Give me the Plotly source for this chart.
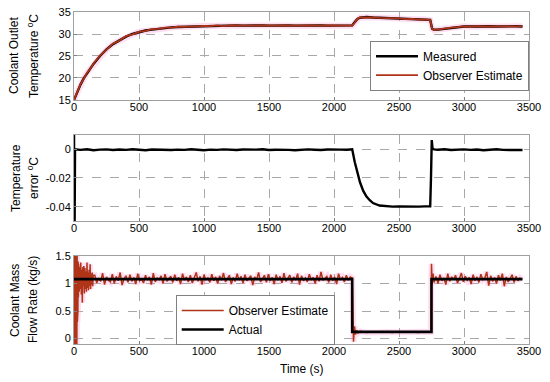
import plotly.graph_objects as go

# ---------------- data ----------------
t_temp = [0, 25, 50, 75, 100, 125, 150,
          200, 250, 300, 350, 400, 450, 500, 550, 600, 650,
          700, 750, 800, 850, 900, 950, 1000, 1050, 1100, 1150,
          1200, 1250, 1300, 1350, 1400, 1450, 1500, 1550, 1600, 1650,
          1700, 1750, 1800, 1850, 1900, 1950, 2000, 2050, 2100,
          2140, 2160, 2180, 2200, 2250, 2300, 2350, 2400, 2450, 2500,
          2550, 2600, 2650, 2700, 2740, 2755, 2770,
          2800, 2850, 2900, 2950, 3000, 3050, 3100, 3150, 3200, 3250, 3300, 3350, 3400, 3450]
temp_measured = [15.0, 16.9, 18.5, 19.9, 21.1, 22.2, 23.2,
                 25.0, 26.5, 27.7, 28.6, 29.4, 30.0, 30.4, 30.8, 31.0, 31.2,
                 31.4, 31.5, 31.6, 31.65, 31.7, 31.8, 31.8, 31.85, 31.9, 31.85,
                 31.9, 31.95, 31.9, 31.95, 31.9, 31.95, 31.9, 31.95, 31.9, 31.95,
                 31.9, 31.95, 31.9, 31.9, 31.95, 31.9, 31.95, 31.9, 31.95,
                 31.95, 32.7, 33.4, 33.7, 33.85, 33.75, 33.7, 33.6, 33.55, 33.5,
                 33.45, 33.4, 33.3, 33.25, 33.2, 31.2, 30.95,
                 31.0, 31.2, 31.4, 31.6, 31.7, 31.7, 31.75, 31.7, 31.75, 31.7, 31.75, 31.7, 31.75, 31.7]
temp_estimate = [15.0, 16.8, 18.6, 19.8, 21.2, 22.1, 23.3,
                 25.1, 26.4, 27.8, 28.5, 29.5, 29.9, 30.5, 30.7, 31.1, 31.15,
                 31.45, 31.45, 31.65, 31.6, 31.75, 31.75, 31.85, 31.8, 31.95, 31.8,
                 31.95, 31.9, 31.95, 31.9, 31.95, 31.9, 31.95, 31.9, 31.95, 31.9,
                 31.95, 31.9, 31.95, 31.85, 31.9, 31.95, 31.9, 31.95, 31.9,
                 31.9, 32.6, 33.45, 33.75, 33.8, 33.8, 33.65, 33.65, 33.5, 33.55,
                 33.4, 33.45, 33.25, 33.3, 33.15, 31.25, 30.9,
                 31.05, 31.15, 31.45, 31.55, 31.75, 31.65, 31.8, 31.7, 31.7, 31.75, 31.7, 31.75, 31.7, 31.75]

t_err = [0, 3, 8,
         50, 100, 150, 200, 250, 300, 350,
         400, 450, 500, 550, 600, 650, 700,
         750, 800, 850, 900, 950, 1000, 1050,
         1100, 1150, 1200, 1250, 1300, 1350, 1400,
         1450, 1500, 1550, 1600, 1650, 1700, 1750,
         1800, 1850, 1900, 1950, 2000, 2050, 2100,
         2140, 2160, 2180, 2200, 2225, 2250, 2275, 2300, 2350, 2400,
         2450, 2500, 2550, 2600, 2650, 2700,
         2740, 2746, 2752, 2758, 2770,
         2800, 2850, 2900, 2950, 3000, 3050, 3100, 3150, 3200, 3250, 3300, 3350, 3400, 3450]
temp_error = [0.02, -0.08, 0.0,
              -0.0004, 0.0001, -0.0006, -0.0002, 0.0000, -0.0005, -0.0001,
              -0.0004, 0.0001, -0.0003, -0.0006, -0.0001, -0.0003, 0.0000,
              -0.0005, -0.0002, -0.0004, 0.0001, -0.0003, -0.0006, -0.0002,
              -0.0004, 0.0000, -0.0003, -0.0005, -0.0001, -0.0004, -0.0002,
              0.0001, -0.0005, -0.0003, -0.0001, -0.0004, -0.0006, -0.0002,
              0.0000, -0.0003, -0.0005, -0.0001, -0.0004, -0.0002, -0.0003,
              0.0000, -0.009, -0.017, -0.023, -0.029, -0.033, -0.0355, -0.0375, -0.0392, -0.0398,
              -0.0400, -0.0399, -0.0401, -0.0399, -0.0400, -0.0398,
              -0.0397, -0.02, 0.0065, 0.0005, 0.0,
              -0.0003, 0.0001, -0.0005, -0.0002, 0.0000, -0.0004, -0.0001, -0.0006, -0.0002, 0.0001, -0.0004, -0.0003, -0.0001, -0.0005]

t_flow = [0, 2, 4, 6, 8, 10, 12, 14, 16, 18, 20, 22, 24, 26, 28, 30, 32, 34,
          36, 40, 44, 48, 52, 56, 60, 64, 68, 72, 76, 80, 84, 88, 92, 96, 100,
          104, 108, 112, 116, 120, 124, 128, 132, 136, 140, 144, 148,
          160, 175, 190, 205, 220, 235, 250, 265, 280, 295,
          310, 325, 340, 355, 370, 385, 400, 415, 430, 445,
          460, 475, 490, 505, 520, 535, 550, 565, 580, 595,
          610, 625, 640, 655, 670, 685, 700, 715, 730, 745,
          760, 775, 790, 805, 820, 835, 850, 865, 880, 895,
          910, 925, 940, 955, 970, 985, 1000, 1015, 1030, 1045,
          1060, 1075, 1090, 1105, 1120, 1135, 1150, 1165, 1180, 1195,
          1210, 1225, 1240, 1255, 1270, 1285, 1300, 1315, 1330, 1345,
          1360, 1375, 1390, 1405, 1420, 1435, 1450, 1465, 1480, 1495,
          1510, 1525, 1540, 1555, 1570, 1585, 1600, 1615, 1630, 1645,
          1660, 1675, 1690, 1705, 1720, 1735, 1750, 1765, 1780, 1795,
          1810, 1825, 1840, 1855, 1870, 1885, 1900, 1915, 1930, 1945,
          1960, 1975, 1990, 2005, 2020, 2035, 2050, 2065, 2080, 2095,
          2110, 2125,
          2140, 2145, 2150, 2158, 2166, 2175, 2185, 2200, 2250, 2300, 2350, 2400, 2450, 2500, 2550, 2600, 2650, 2700, 2745,
          2750, 2755, 2762, 2770,
          2785, 2800, 2815, 2830, 2845, 2860, 2875, 2890, 2905, 2920,
          2935, 2950, 2965, 2980, 2995, 3010, 3025, 3040, 3055, 3070,
          3085, 3100, 3115, 3130, 3145, 3160, 3175, 3190, 3205, 3220,
          3235, 3250, 3265, 3280, 3295, 3310, 3325, 3340, 3355, 3370,
          3385, 3400, 3415, 3430, 3445]
flow_estimate = [1.55, -0.15, 1.55, -0.15, 1.5, 0.0, 1.55, -0.15, 1.5, 0.1, 1.55, -0.1, 1.5, 0.3, 1.45, 0.5, 1.4, 0.75,
                 1.35, 0.85, 1.3, 0.9, 1.38, 0.8, 1.25, 0.65, 1.3, 0.95, 1.32, 0.82, 1.28, 0.9, 1.22, 0.85, 1.38,
                 0.92, 1.2, 0.88, 1.25, 0.95, 1.35, 0.9, 1.18, 0.98, 1.2, 0.95, 1.15,
                 1.15, 1.01, 1.10, 1.04, 1.19, 0.98, 1.12, 1.06, 1.03, 1.17,
                 1.00, 1.13, 1.05, 1.20, 0.97, 1.09, 1.14, 1.02, 1.16, 1.04,
                 1.11, 0.99, 1.18, 1.05, 1.08, 1.01, 1.15, 1.06, 1.12, 0.98,
                 1.19, 1.03, 1.10, 1.07, 1.14, 1.00, 1.17, 1.04, 1.09, 1.13,
                 1.02, 1.16, 1.05, 1.11, 0.99, 1.18, 1.06, 1.12, 1.03, 1.15,
                 1.01, 1.09, 1.20, 1.04, 1.13, 0.98, 1.16, 1.07, 1.10, 1.02,
                 1.17, 1.05, 1.12, 1.00, 1.14, 1.06, 1.19, 1.03, 1.09, 1.15,
                 0.99, 1.11, 1.04, 1.18, 1.06, 1.13, 1.01, 1.16, 1.05, 1.10,
                 1.14, 0.97, 1.12, 1.07, 1.20, 1.03, 1.09, 1.15, 1.02, 1.17,
                 1.05, 1.11, 0.99, 1.16, 1.06, 1.13, 1.01, 1.19, 1.04, 1.10,
                 1.15, 1.02, 1.12, 1.06, 1.18, 0.98, 1.14, 1.05, 1.10, 1.03,
                 1.17, 1.07, 1.11, 1.00, 1.15, 1.04, 1.21, 1.06, 1.09, 1.13,
                 1.02, 1.16, 1.05, 1.12, 0.99, 1.18, 1.07, 1.11, 1.03, 1.15,
                 1.06, 1.12,
                 1.10, 0.45, -0.06, 0.22, 0.07, 0.15, 0.10, 0.13, 0.11, 0.125, 0.115, 0.12, 0.11, 0.125, 0.115, 0.12, 0.11, 0.125, 0.12,
                 1.36, 0.98, 1.18, 1.02,
                 1.13, 1.00, 1.16, 1.05, 1.10, 0.98, 1.18, 1.04, 1.12, 1.07,
                 1.15, 1.01, 1.09, 1.19, 1.03, 1.13, 1.06, 1.11, 0.99, 1.16,
                 1.05, 1.12, 1.02, 1.17, 1.07, 1.10, 1.21, 0.96, 1.14, 1.04,
                 1.11, 1.00, 1.15, 1.06, 1.18, 0.95, 1.12, 1.03, 1.09, 1.16,
                 1.02, 1.13, 1.05, 1.10, 1.07]

t_actual = [0, 2140, 2140, 2750, 2750, 3450]
flow_actual = [1.08, 1.08, 0.12, 0.12, 1.08, 1.08]

x_ticks = [0, 500, 1000, 1500, 2000, 2500, 3000, 3500]
temp_ticks = [15, 20, 25, 30, 35]
err_ticks = [-0.04, -0.02, 0]
err_ticktext = ["-0.04", "-0.02", "0"]
flow_ticks = [0, 0.5, 1, 1.5]
flow_ticktext = ["0", "0.5", "1", "1.5"]

# ---------------- styles ----------------
EST = "#B03418"
HALO = "rgba(255,160,215,0.35)"
FONT = "Arial, 'Liberation Sans', sans-serif"

W, H = 550, 382
L, R, T, B = 74, 21, 12, 38
PW, PH = W - L - R, H - T - B   # 455 x 332

fig = go.Figure()

# top panel
fig.add_trace(go.Scatter(x=t_temp, y=temp_estimate, mode="lines", line=dict(color=HALO, width=6),
                         showlegend=False, hoverinfo="skip", xaxis="x", yaxis="y"))
fig.add_trace(go.Scatter(x=t_temp, y=temp_measured, mode="lines", name="Measured",
                         line=dict(color="black", width=2.4), xaxis="x", yaxis="y", legend="legend"))
fig.add_trace(go.Scatter(x=t_temp, y=temp_estimate, mode="lines", name="Observer Estimate",
                         line=dict(color=EST, width=1.8), xaxis="x", yaxis="y", legend="legend"))

# middle panel
fig.add_trace(go.Scatter(x=t_err, y=temp_error, mode="lines", showlegend=False,
                         line=dict(color="black", width=2.4), xaxis="x2", yaxis="y2"))

# bottom panel
fig.add_trace(go.Scatter(x=t_flow, y=flow_estimate, mode="lines", line=dict(color=HALO, width=6),
                         showlegend=False, hoverinfo="skip", xaxis="x3", yaxis="y3"))
fig.add_trace(go.Scatter(x=t_flow, y=flow_estimate, mode="lines", name="Observer Estimate",
                         line=dict(color=EST, width=1.5), xaxis="x3", yaxis="y3", legend="legend2"))
fig.add_trace(go.Scatter(x=t_actual, y=flow_actual, mode="lines", name="Actual",
                         line=dict(color="black", width=2.6), xaxis="x3", yaxis="y3", legend="legend2"))

ax_common = dict(showgrid=True, gridcolor="#a8a8a8", griddash="dash", gridwidth=1,
                 showline=True, mirror=True, linecolor="#a0a0a0", linewidth=1,
                 ticks="inside", ticklen=3, tickcolor="#808080", zeroline=False,
                 automargin=False, ticklabeloverflow="allow",
                 tickfont=dict(size=11, color="black", family=FONT))

xa = dict(range=[0, 3500], tickvals=x_ticks, ticklabelstandoff=-3, **ax_common)

fig.update_layout(
    width=W, height=H,
    margin=dict(l=L, r=R, t=T, b=B, autoexpand=False),
    paper_bgcolor="white", plot_bgcolor="white",
    font=dict(family=FONT, size=11, color="black"),
    xaxis=dict(domain=[0, 1], anchor="y", **xa),
    xaxis2=dict(domain=[0, 1], anchor="y2", **xa),
    xaxis3=dict(domain=[0, 1], anchor="y3", **xa),
    yaxis=dict(domain=[0.735, 1], anchor="x", range=[15, 35], tickvals=temp_ticks, **ax_common),
    yaxis2=dict(domain=[0.3705, 0.6295], anchor="x2", range=[-0.05, 0.01],
                tickvals=err_ticks, ticktext=err_ticktext, **ax_common),
    yaxis3=dict(domain=[0, 0.265], anchor="x3", range=[-0.1, 1.5],
                tickvals=flow_ticks, ticktext=flow_ticktext, **ax_common),
    legend=dict(x=1, y=0.9136, xanchor="right", yanchor="top", bgcolor="white",
                bordercolor="#808080", borderwidth=1, itemwidth=42,
                font=dict(size=12, family=FONT)),
    legend2=dict(x=0.2235, y=0.1476, xanchor="left", yanchor="top", bgcolor="white",
                 bordercolor="#808080", borderwidth=1, itemwidth=42,
                 font=dict(size=12, family=FONT)),
)

# positions below are given in pixels of the 550x382 figure
def px_x(xs):
    return (xs - L) / PW

def px_y(ys):
    return (H - B - ys) / PH

def ylab(text, xs, ys):
    fig.add_annotation(text=text, xref="paper", yref="paper",
                       x=px_x(xs), y=px_y(ys),
                       xanchor="center", yanchor="middle", textangle=-90,
                       showarrow=False, font=dict(size=12, family=FONT, color="black"))

ylab("Coolant Outlet", 14, 56)
ylab("Temperature <sup>o</sup>C", 33, 56)
ylab("Temperature", 16, 178)
ylab("error <sup>o</sup>C", 33, 178)
ylab("Coolant Mass", 15, 300)
ylab("Flow Rate (kg/s)", 33, 300)

fig.add_annotation(text="Time (s)", xref="paper", yref="paper", x=0.5, y=px_y(369),
                   xanchor="center", yanchor="middle", showarrow=False,
                   font=dict(size=12, family=FONT, color="black"))

# remove the browser's default 8px page margin so the figure fills the window exactly
fig.write_html("out.html", config={"displayModeBar": False},
               post_script="document.body.style.margin='0';")
